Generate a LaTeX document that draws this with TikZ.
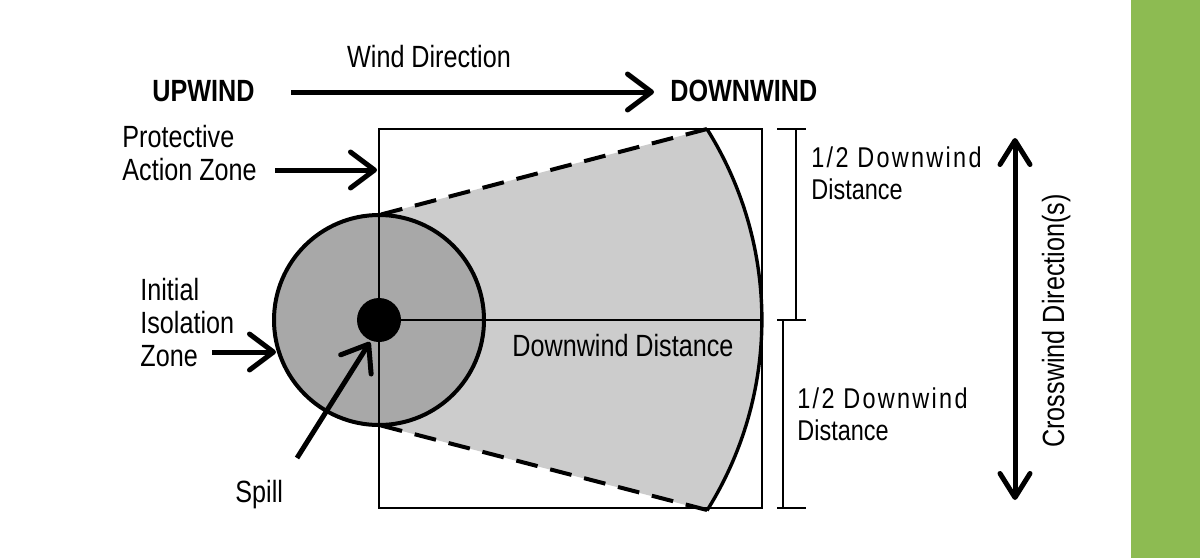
\documentclass[tikz,border=0pt]{standalone}
\usepackage{fontspec}
\setmainfont[FakeStretch=0.82]{Liberation Sans}
\newfontfamily\spacedfont[FakeStretch=0.82,LetterSpace=8]{Liberation Sans}
\usetikzlibrary{arrows.meta}
\definecolor{zonegray}{HTML}{A8A8A8}
\definecolor{plumegray}{HTML}{CCCCCC}
\definecolor{sidegreen}{HTML}{8DBB52}
\begin{document}
\begin{tikzpicture}[x=0.5pt,y=-0.5pt,
  lbl/.style={inner sep=0pt, font=\fontsize{15.35}{16.5}\selectfont, align=left},
  sidelbl/.style={inner sep=0pt, font=\fontsize{14.3}{16.2}\selectfont, align=left},
  boldlbl/.style={inner sep=0pt, font=\fontsize{15.35}{16.5}\selectfont\bfseries},
  pointer/.style={line width=2.5pt, -{Straight Barb[length=12pt,width=18pt,round]}},
  bothpointer/.style={line width=2.5pt, {Straight Barb[length=12pt,width=15pt,round]}-{Straight Barb[length=12pt,width=15pt,round]}},
  thinline/.style={line width=1pt},
  dashedge/.style={line width=2pt, dash pattern=on 11pt off 6.5pt},
  bracketline/.style={line width=1.2pt}]
\useasboundingbox (0,0) rectangle (1200,558);
\fill[white] (0,0) rectangle (1200,558);
% green side bar
\fill[sidegreen] (1131,0) rectangle (1200,558);

% key points
\coordinate (spill) at (379,320);
\coordinate (ctop) at (379,215);
\coordinate (cbot) at (379,425);
\coordinate (arctop) at (707,129);
\coordinate (arcbot) at (707,510);

% plume (light gray sector)
\fill[plumegray] (ctop) -- (arctop) arc[start angle=-32.1, end angle=32.1, radius=359] -- (cbot) -- cycle;
% initial isolation zone
\draw[line width=2pt, fill=zonegray] (spill) circle[radius=105];
% protective action zone box and cross lines
\draw[thinline] (379,129) rectangle (762,508);
\draw[thinline] (spill) -- (762,320);
% dashed edges
\draw[dashedge] (arctop) -- (ctop);
\draw[dashedge] (arcbot) -- (cbot);
% outer arc
\draw[line width=1.7pt] (arctop) arc[start angle=-32.1, end angle=32.1, radius=359];
% spill dot
\fill (spill) circle[radius=22];

% brackets
\draw[bracketline] (777,129) -- (806,129) (796,129) -- (796,320) (777,320) -- (806,320);
\draw[bracketline] (783,320) -- (783,508) (777,508) -- (806,508);

% top labels and wind arrow
\node[lbl, anchor=base] (winddir) at (429,67) {Wind Direction};
\node[boldlbl, anchor=base west] (upwind) at (152,101) {UPWIND};
\node[boldlbl, anchor=base west] (downwind) at (670,101) {DOWNWIND};
\coordinate (windS) at (291,92);
\coordinate (windE) at (654,92);
\draw[pointer] (windS) -- (windE);

% protective action zone label
\node[lbl, anchor=north west] (paz) at (122,125) {Protective\\Action Zone};
\coordinate (pazS) at (275,170);
\coordinate (pazE) at (377,170);
\draw[pointer] (pazS) -- (pazE);

% initial isolation zone label
\node[lbl, anchor=north west] (iiz) at (140,278) {Initial\\Isolation\\Zone};
\coordinate (iizS) at (212,352);
\coordinate (iizE) at (276,352);
\draw[pointer] (iizS) -- (iizE);

% spill
\node[lbl, anchor=base west] (spilllbl) at (235,502) {Spill};
\coordinate (spillS) at (297,458);
\coordinate (spillE) at (370,342);
\draw[pointer] (spillS) -- (spillE);

% downwind distance
\node[lbl, anchor=base west] (dwd) at (512,356) {Downwind Distance};

% half distances
\node[sidelbl, anchor=north west] (halfup) at (811,146) {{\spacedfont 1/2 Downwind}\\Distance};
\node[sidelbl, anchor=north west] (halflow) at (797,387) {{\spacedfont 1/2 Downwind}\\Distance};

% crosswind
\coordinate (crossT) at (1015,138);
\coordinate (crossB) at (1015,500);
\draw[bothpointer] (crossB) -- (crossT);
\node[lbl, anchor=base, rotate=90] (crosslbl) at (1064,321) {Crosswind Direction(s)};
\end{tikzpicture}
\end{document}
